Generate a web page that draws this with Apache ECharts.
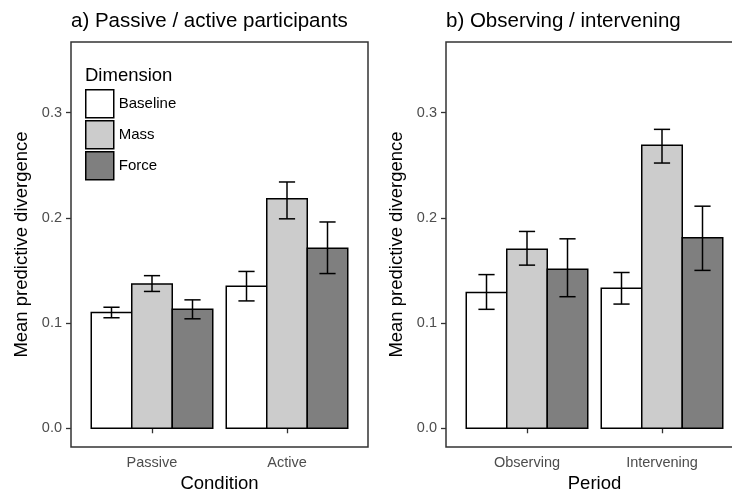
<!DOCTYPE html>
<html>
<head>
<meta charset="utf-8">
<script src="https://cdn.jsdelivr.net/npm/echarts@6/dist/echarts.min.js"></script>
<style>html,body{margin:0;padding:0;background:#fff}#c{width:732px;height:490px}</style>
</head>
<body>
<div id="c"></div>
<script>
// ---- data ----
const dimensions = ['Baseline', 'Mass', 'Force'];
const dimColors = ['#ffffff', '#cccccc', '#7f7f7f'];
const categoriesA = ['Passive', 'Active'];
const categoriesB = ['Observing', 'Intervening'];
const yTicks = [0, 0.1, 0.2, 0.3];

// panel a: means and error bar bounds
const aBaseline = [0.110, 0.135];
const aMass     = [0.137, 0.218];
const aForce    = [0.113, 0.171];
const aBaselineLo = [0.105, 0.121], aBaselineHi = [0.115, 0.149];
const aMassLo     = [0.130, 0.199], aMassHi     = [0.145, 0.234];
const aForceLo    = [0.104, 0.147], aForceHi    = [0.122, 0.196];

// panel b
const bBaseline = [0.129, 0.133];
const bMass     = [0.170, 0.269];
const bForce    = [0.151, 0.181];
const bBaselineLo = [0.113, 0.118], bBaselineHi = [0.146, 0.148];
const bMassLo     = [0.155, 0.252], bMassHi     = [0.187, 0.284];
const bForceLo    = [0.125, 0.150], bForceHi    = [0.180, 0.211];

// ---- chart ----
const FONT = '"Liberation Sans", Arial, Helvetica, sans-serif';
const BAR_W = 0.3, CAP_W = 0.12;

function barRender(dimIdx) {
  return function (params, api) {
    const xc = api.value(0) + (dimIdx - 1) * BAR_W;
    const p0 = api.coord([xc - BAR_W / 2, api.value(1)]);
    const p1 = api.coord([xc + BAR_W / 2, 0]);
    return {
      type: 'rect',
      shape: { x: p0[0], y: p0[1], width: p1[0] - p0[0], height: p1[1] - p0[1] },
      style: { fill: dimColors[dimIdx], stroke: '#000', lineWidth: 1.5 }
    };
  };
}
function errRender(params, api) {
  const xc = api.value(0) + (api.value(3) - 1) * BAR_W;
  const lo = api.coord([xc, api.value(1)]);
  const hi = api.coord([xc, api.value(2)]);
  const l = api.coord([xc - CAP_W / 2, 0])[0];
  const r = api.coord([xc + CAP_W / 2, 0])[0];
  const st = { stroke: '#000', lineWidth: 1.5 };
  return {
    type: 'group',
    children: [
      { type: 'line', shape: { x1: lo[0], y1: lo[1], x2: hi[0], y2: hi[1] }, style: st },
      { type: 'line', shape: { x1: l, y1: lo[1], x2: r, y2: lo[1] }, style: st },
      { type: 'line', shape: { x1: l, y1: hi[1], x2: r, y2: hi[1] }, style: st }
    ]
  };
}

function panelSeries(gi, means, los, his) {
  const s = [];
  means.forEach((vals, d) => {
    s.push({
      type: 'custom', name: dimensions[d], xAxisIndex: gi, yAxisIndex: gi,
      itemStyle: { color: dimColors[d], borderColor: '#000', borderWidth: 1.5 },
      renderItem: barRender(d),
      encode: { x: 0, y: 1 },
      data: vals.map((v, i) => [i + 1, v])
    });
  });
  const errData = [];
  los.forEach((lo, d) => lo.forEach((v, i) => errData.push([i + 1, v, his[d][i], d])));
  s.push({
    type: 'custom', name: 'err' + gi, xAxisIndex: gi, yAxisIndex: gi,
    renderItem: errRender, encode: { x: 0, y: [1, 2] }, data: errData, z: 5
  });
  return s;
}

function xAxis(gi, cats, name) {
  return {
    type: 'value', gridIndex: gi, min: 0.4, max: 2.6,
    name: name, nameLocation: 'middle', nameGap: 27,
    nameTextStyle: { fontSize: 18.5, color: '#000', fontFamily: FONT },
    axisLine: { show: false },
    splitLine: { show: false },
    axisTick: { show: true, length: 5, lineStyle: { color: '#333', width: 1.3 }, customValues: [1, 2] },
    axisLabel: { customValues: [1, 2], margin: 8, fontSize: 14.5, color: '#4d4d4d', fontFamily: FONT,
      formatter: v => cats[Math.round(v) - 1] }
  };
}
function yAxis(gi) {
  return {
    type: 'value', gridIndex: gi, min: -0.0178, max: 0.367,
    name: 'Mean predictive divergence', nameLocation: 'middle', nameGap: 40,
    nameTextStyle: { fontSize: 18.5, color: '#000', fontFamily: FONT },
    axisLine: { show: false },
    splitLine: { show: false },
    axisTick: { show: true, length: 5, lineStyle: { color: '#333', width: 1.3 }, customValues: yTicks },
    axisLabel: { customValues: yTicks, margin: 9, fontSize: 14.5, color: '#4d4d4d', fontFamily: FONT,
      formatter: v => v.toFixed(1) }
  };
}

const chart = echarts.init(document.getElementById('c'), null, { renderer: 'canvas' });
chart.setOption({
  animation: false,
  backgroundColor: '#fff',
  title: [
    { text: 'a) Passive / active participants', left: 71, top: 11, padding: 0,
      textStyle: { fontSize: 20.5, fontWeight: 'normal', color: '#000', fontFamily: FONT } },
    { text: 'b) Observing / intervening', left: 446, top: 11, padding: 0,
      textStyle: { fontSize: 20.5, fontWeight: 'normal', color: '#000', fontFamily: FONT } },
    { text: 'Dimension', left: 85, top: 66, padding: 0,
      textStyle: { fontSize: 18.5, fontWeight: 'normal', color: '#000', fontFamily: FONT } }
  ],
  legend: {
    orient: 'vertical', left: 85, top: 89, padding: 0,
    itemWidth: 28, itemHeight: 28, itemGap: 1.5, icon: 'rect',
    selectedMode: false,
    textStyle: { fontSize: 15, color: '#000', fontFamily: FONT, padding: [0, 0, 0, 0] },
    data: dimensions.map((d, i) => ({ name: d, itemStyle: { color: dimColors[i], borderColor: '#000', borderWidth: 1.5 } }))
  },
  grid: [
    { left: 71, top: 42, width: 297, height: 405, show: true, borderColor: '#333', borderWidth: 1.5,
      containLabel: false, outerBoundsMode: 'none' },
    { left: 446, top: 42, width: 297, height: 405, show: true, borderColor: '#333', borderWidth: 1.5,
      containLabel: false, outerBoundsMode: 'none' }
  ],
  xAxis: [xAxis(0, categoriesA, 'Condition'), xAxis(1, categoriesB, 'Period')],
  yAxis: [yAxis(0), yAxis(1)],
  series: [
    ...panelSeries(0, [aBaseline, aMass, aForce], [aBaselineLo, aMassLo, aForceLo], [aBaselineHi, aMassHi, aForceHi]),
    ...panelSeries(1, [bBaseline, bMass, bForce], [bBaselineLo, bMassLo, bForceLo], [bBaselineHi, bMassHi, bForceHi])
  ]
});
</script>
</body>
</html>
